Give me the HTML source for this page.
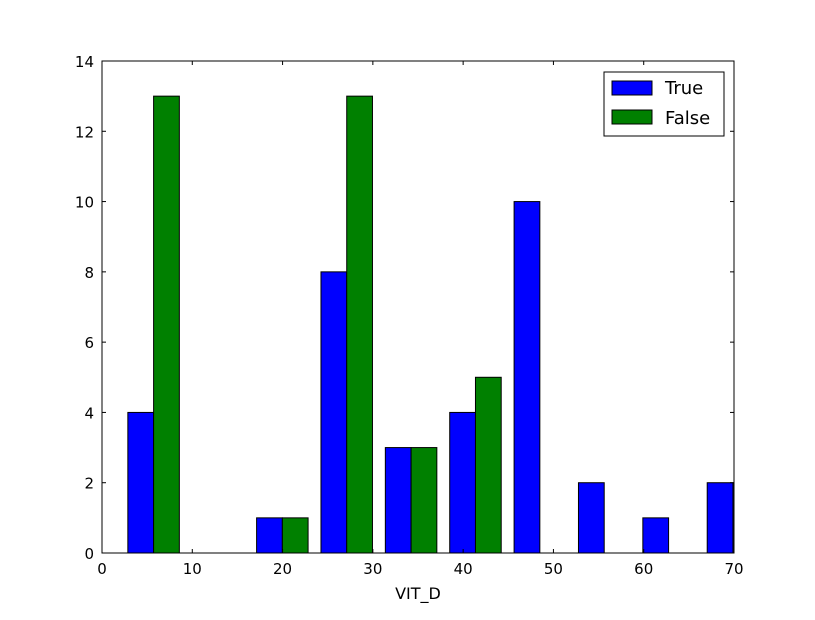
<!DOCTYPE html>
<html><head><meta charset="utf-8"><style>
body{margin:0;background:#fff;width:815px;height:615px;overflow:hidden}
text{font-family:"DejaVu Sans","Liberation Sans",sans-serif}
</style></head><body>
<svg id="chart" width="815" height="615" xmlns="http://www.w3.org/2000/svg">
<rect width="815" height="615" fill="#fff"/>
<g id="bars"></g>
<rect x="102" y="61" width="632" height="492" fill="none" stroke="#000" stroke-width="1"/>
<g id="ticks"></g>
<text x="418" y="599" font-size="16" text-anchor="middle">VIT_D</text>
<g>
<rect x="604" y="72" width="120" height="64" fill="#fff" stroke="#000"/>
<g><rect x="612" y="81" width="40" height="14" fill="#0000ff" stroke="#000"/><text x="665" y="94" font-size="18">True</text></g>
<g><rect x="612" y="110" width="40" height="14" fill="#008000" stroke="#000"/><text x="665" y="124" font-size="18">False</text></g>
</g>
</svg>
<script>
const binStart = 2.15;
const binWidth = 7.13;
const trueCounts = [4,0,1,8,3,4,10,2,1,2];
const falseCounts = [13,0,1,13,3,5,0,0,0,0];
const xTicks = [0,10,20,30,40,50,60,70];
const yTicks = [0,2,4,6,8,10,12,14];
const X0=102,X1=734,Y0=553,Y1=61;
const xs=v=>X0+(v-0)/70*(X1-X0);
const ys=v=>Y0-(v/14)*(Y0-Y1);
const NS="http://www.w3.org/2000/svg";
const bars=document.getElementById('bars');
function bar(series,i,val,color,name){
  const l=binStart+i*binWidth+0.1*binWidth+series*0.4*binWidth;
  const r=l+0.4*binWidth;
  let x1=xs(l),x2=Math.min(xs(r),X1);
  if(x1>=X1) return;
  const e=document.createElementNS(NS,'rect');
  e.setAttribute('x',x1);e.setAttribute('width',x2-x1);
  e.setAttribute('y',ys(val));e.setAttribute('height',Y0-ys(val));
  e.setAttribute('fill',color);e.setAttribute('stroke','#000');e.setAttribute('stroke-width','1');
  
  
  bars.appendChild(e);
}
trueCounts.forEach((v,i)=>bar(0,i,v,'#0000ff','bar-true-'+i));
falseCounts.forEach((v,i)=>bar(1,i,v,'#008000','bar-false-'+i));
const tg=document.getElementById('ticks');
function add(tag,attrs,txt){const e=document.createElementNS(NS,tag);for(const k in attrs)e.setAttribute(k,attrs[k]);if(txt!==undefined)e.textContent=txt;tg.appendChild(e);return e;}
xTicks.forEach(v=>{const x=xs(v);
  add('line',{x1:x,x2:x,y1:Y0,y2:Y0-4,stroke:'#000'});
  add('line',{x1:x,x2:x,y1:Y1,y2:Y1+4,stroke:'#000'});
  const t=add('text',{x:x,y:Y0+21,'font-size':15,'text-anchor':'middle'},v);
  
  
});
yTicks.forEach(v=>{const y=ys(v);
  add('line',{x1:X0,x2:X0+4,y1:y,y2:y,stroke:'#000'});
  add('line',{x1:X1,x2:X1-4,y1:y,y2:y,stroke:'#000'});
  const t=add('text',{x:X0-8,y:y+6,'font-size':15,'text-anchor':'end'},v);
  
  
});
</script>
</body></html>
